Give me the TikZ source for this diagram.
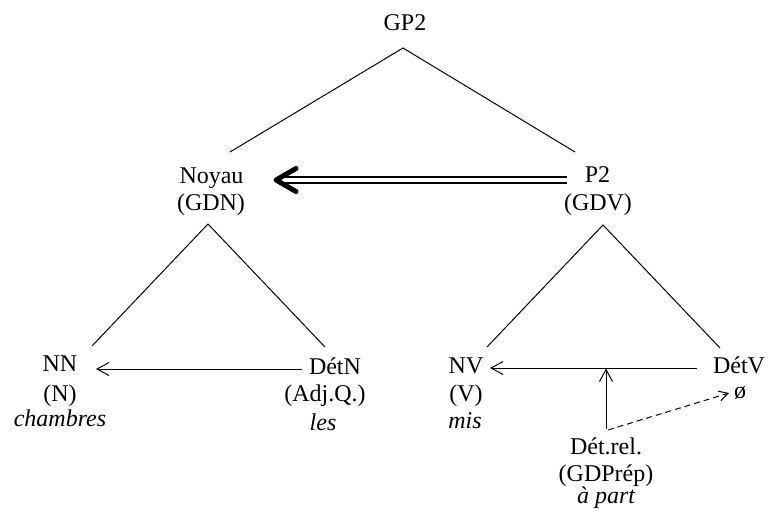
\documentclass[tikz,border=0pt]{standalone}
\usepackage{fontspec}
\setmainfont{Liberation Serif}
\usetikzlibrary{arrows.meta}
\begin{document}
\begin{tikzpicture}[x=1pt,y=-1pt,
  lbl/.style={inner sep=0pt, anchor=base, font=\fontsize{24}{26}\selectfont},
  itl/.style={inner sep=0pt, anchor=base, font=\fontsize{24}{26}\selectfont\itshape},
  tree/.style={line width=1pt},
  rel/.style={line width=1pt, -{Straight Barb[length=12pt,width=13pt]}},
  dsh/.style={line width=1pt, dash pattern=on 6pt off 4pt, -{Straight Barb[length=9pt,width=10pt]}},
  dbl/.style={line width=2pt, double, double distance=3.3pt},
  bighead/.style={line width=5pt, line cap=round, line join=round}]
\useasboundingbox (0,0) rectangle (768,512);
% labels
\node[lbl] (GP2) at (405,30) {GP2};
\node[lbl] (Noyau) at (211.5,183) {Noyau};
\node[lbl] (GDN) at (211,210.5) {(GDN)};
\node[lbl] (P2) at (597.5,182) {P2};
\node[lbl] (GDV) at (598,210) {(GDV)};
\node[lbl] (NN) at (60,371) {NN};
\node[lbl] (N) at (60,401) {(N)};
\node[itl] (chambres) at (60,426) {chambres};
\node[lbl] (DetN) at (335,374) {DétN};
\node[lbl] (AdjQ) at (325,401) {(Adj.Q.)};
\node[itl] (les) at (323,430) {les};
\node[lbl] (NV) at (466,373) {NV};
\node[lbl] (V) at (466,401) {(V)};
\node[itl] (mis) at (465,428) {mis};
\node[lbl] (DetV) at (739,373) {DétV};
\node[lbl] (oslash) at (740,398) {ø};
\node[lbl] (Detrel) at (606,454) {Dét.rel.};
\node[lbl] (GDPrep) at (606,481) {(GDPrép)};
\node[itl] (apart) at (606,503) {à part};
% tree coordinates
\coordinate (gpA) at (403,48);
\coordinate (noyT) at (230,152);
\coordinate (p2T) at (575,152);
\coordinate (gdnB) at (208,224);
\coordinate (nnT) at (92,346);
\coordinate (detnT) at (325,347);
\coordinate (gdvB) at (603,225);
\coordinate (nvT) at (487,347);
\coordinate (detvT) at (720,348);
\draw[tree] (noyT) -- (gpA) -- (p2T);
\draw[tree] (nnT) -- (gdnB) -- (detnT);
\draw[tree] (nvT) -- (gdvB) -- (detvT);
% relations
\coordinate (nnE) at (96,369);
\coordinate (detnS) at (302,369);
\draw[rel] (detnS) -- (nnE);
\coordinate (nvE) at (490,368);
\coordinate (detvS) at (697,368);
\draw[rel] (detvS) -- (nvE);
\coordinate (relTop) at (606,429);
\coordinate (relHit) at (606,368.5);
\draw[rel] (relTop) -- (relHit);
\coordinate (dshS) at (608,430);
\coordinate (dshE) at (729,393);
\draw[dsh] (dshS) -- (dshE);
% double arrow P2 -> Noyau
\coordinate (dblS) at (567,180);
\coordinate (dblE) at (284,180);
\coordinate (hdV) at (276,180);
\draw[dbl] (dblS) -- (dblE);
\draw[bighead] (296,168.5) -- (hdV) -- (296,191.5);
\end{tikzpicture}
\end{document}
